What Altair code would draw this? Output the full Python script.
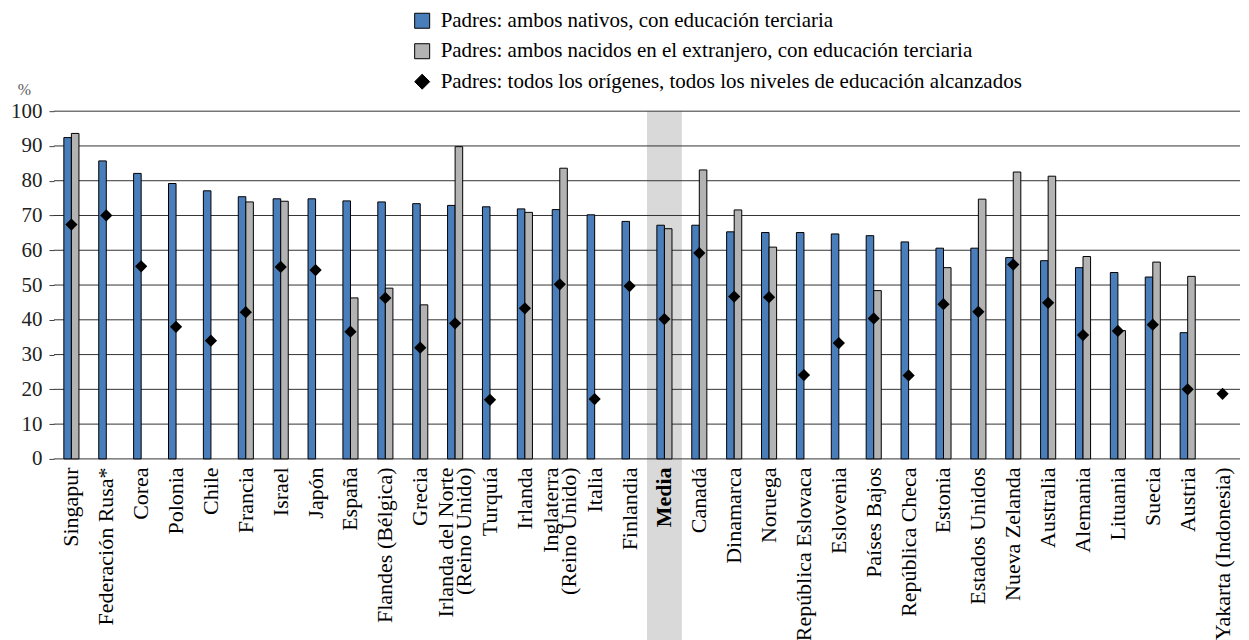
import altair as alt
import pandas as pd

paises = [
    "Singapur", "Federación Rusa*", "Corea", "Polonia", "Chile", "Francia", "Israel",
    "Japón", "España", "Flandes (Bélgica)", "Grecia", "Irlanda del Norte|(Reino Unido)",
    "Turquía", "Irlanda", "Inglaterra|(Reino Unido)", "Italia", "Finlandia", "Media",
    "Canadá", "Dinamarca", "Noruega", "República Eslovaca", "Eslovenia", "Países Bajos",
    "República Checa", "Estonia", "Estados Unidos", "Nueva Zelanda", "Australia",
    "Alemania", "Lituania", "Suecia", "Austria", "Yakarta (Indonesia)",
]
nativos = [
    92.4, 85.7, 82.1, 79.2, 77.1, 75.4, 74.8, 74.8, 74.2, 73.9, 73.4, 72.9,
    72.5, 71.9, 71.7, 70.2, 68.3, 67.2, 67.2, 65.3, 65.1, 65.1, 64.7, 64.2,
    62.4, 60.6, 60.6, 57.9, 57.0, 55.0, 53.6, 52.3, 36.3, None,
]
extranjero = [
    93.6, None, None, None, None, 73.9, 74.1, None, 46.3, 49.1, 44.3, 89.8,
    None, 70.9, 83.6, None, None, 66.2, 83.1, 71.6, 60.9, None, None, 48.4,
    None, 55.0, 74.7, 82.5, 81.3, 58.2, 36.9, 56.6, 52.5, None,
]
todos = [
    67.4, 70.0, 55.4, 38.0, 34.0, 42.2, 55.2, 54.3, 36.6, 46.3, 32.0, 39.0,
    17.0, 43.3, 50.2, 17.2, 49.7, 40.2, 59.2, 46.7, 46.5, 24.1, 33.3, 40.4,
    24.0, 44.5, 42.3, 55.9, 44.9, 35.6, 36.8, 38.6, 20.0, 18.7,
]
ticks_y = [0, 10, 20, 30, 40, 50, 60, 70, 80, 90, 100]
series = [
    "Padres: ambos nativos, con educación terciaria",
    "Padres: ambos nacidos en el extranjero, con educación terciaria",
    "Padres: todos los orígenes, todos los niveles de educación alcanzados",
]
colores = ["#4A7EBB", "#B3B3B3", "#000000"]
formas = ["square", "square", "diamond"]

rows = []
for p, a, b in zip(paises, nativos, extranjero):
    if a is not None:
        rows.append({"pais": p, "serie": series[0], "grupo": "a", "valor": a})
    if b is not None:
        rows.append({"pais": p, "serie": series[1], "grupo": "b", "valor": b})
bars_df = pd.DataFrame(rows)
pts_df = pd.DataFrame({"pais": paises, "serie": series[2], "valor": todos})
media_df = pd.DataFrame({"pais": ["Media"], "top": [100], "bottom": [-56]})
grid_df = pd.DataFrame({"y": ticks_y})

FONT = "Liberation Serif"
W, H = 1187, 348

xscale = alt.Scale(domain=paises, paddingInner=0, paddingOuter=0)
yscale = alt.Scale(domain=[0, 100], nice=False)

x_axis = alt.Axis(
    title=None, labelAngle=270, labelExpr="split(datum.label, '|')",
    labelFont=FONT, labelFontSize=22, labelColor="black", labelPadding=8,
    labelLineHeight=18, ticks=False, domain=False, grid=False, zindex=1,
    labelLimit=1000, labelOverlap=False,
    labelOffset={"condition": {"test": "indexof(datum.value, '|') >= 0", "value": -9}, "value": 0},
    labelFontWeight={"condition": {"test": "datum.value === 'Media'", "value": "bold"}, "value": "normal"},
)
y_axis = alt.Axis(
    values=ticks_y, title="%", titleAngle=0, titleX=-30, titleY=-22,
    titleAlign="center", titleBaseline="middle", titleFont=FONT, titleFontSize=16,
    titleFontWeight="normal", titleColor="#595959",
    grid=False, domain=False, tickSize=5, tickColor="#404040",
    labelPadding=7, labelFont=FONT, labelFontSize=21, labelColor="#222222",
)

legend = alt.Legend(
    title=None, orient="none", legendX=358, legendY=-101, direction="vertical",
    labelFont=FONT, labelFontSize=21, labelColor="black", labelLimit=1000,
    symbolSize=225, symbolStrokeColor="black", symbolStrokeWidth=1,
    rowPadding=8.5, labelOffset=8, padding=0,
)
color = alt.Color("serie:N", scale=alt.Scale(domain=series, range=colores), legend=legend)
x_enc = alt.X("pais:N", scale=xscale, axis=x_axis, sort=paises)

band = alt.Chart(media_df).mark_bar(color="#D9D9D9").encode(
    x=x_enc,
    y=alt.Y("top:Q", scale=yscale, axis=y_axis),
    y2="bottom:Q",
)

grid = alt.Chart(grid_df).mark_rule(color="#333333", strokeWidth=1).encode(
    y=alt.Y("y:Q", scale=yscale, axis=y_axis),
)

bars = alt.Chart(bars_df).mark_bar(stroke="black", strokeWidth=1).encode(
    x=x_enc,
    xOffset=alt.XOffset(
        "grupo:N",
        scale=alt.Scale(domain=["p1", "a", "b", "p2"], paddingInner=0, paddingOuter=0.31),
    ),
    y=alt.Y("valor:Q", scale=yscale, axis=y_axis),
    color=color,
)

points = alt.Chart(pts_df).mark_point(filled=True, size=150, opacity=1).encode(
    x=x_enc,
    y=alt.Y("valor:Q", scale=yscale, axis=y_axis),
    color=color,
    shape=alt.Shape("serie:N", scale=alt.Scale(domain=series, range=formas), legend=legend),
)

chart = alt.layer(band, grid, bars, points).properties(
    width=W, height=H,
    padding={"left": 2, "top": 2, "right": 0, "bottom": 0},
    background="white",
).configure(
    font=FONT,
    style={"guide-label": {"font": FONT, "fontSize": 21}},
    legend=alt.LegendConfig(labelFont=FONT, labelFontSize=21, labelColor="black", labelLimit=1000),
    view=alt.ViewConfig(stroke=None),
)

chart.save("out.html", embed_options={"renderer": "svg", "actions": False})
